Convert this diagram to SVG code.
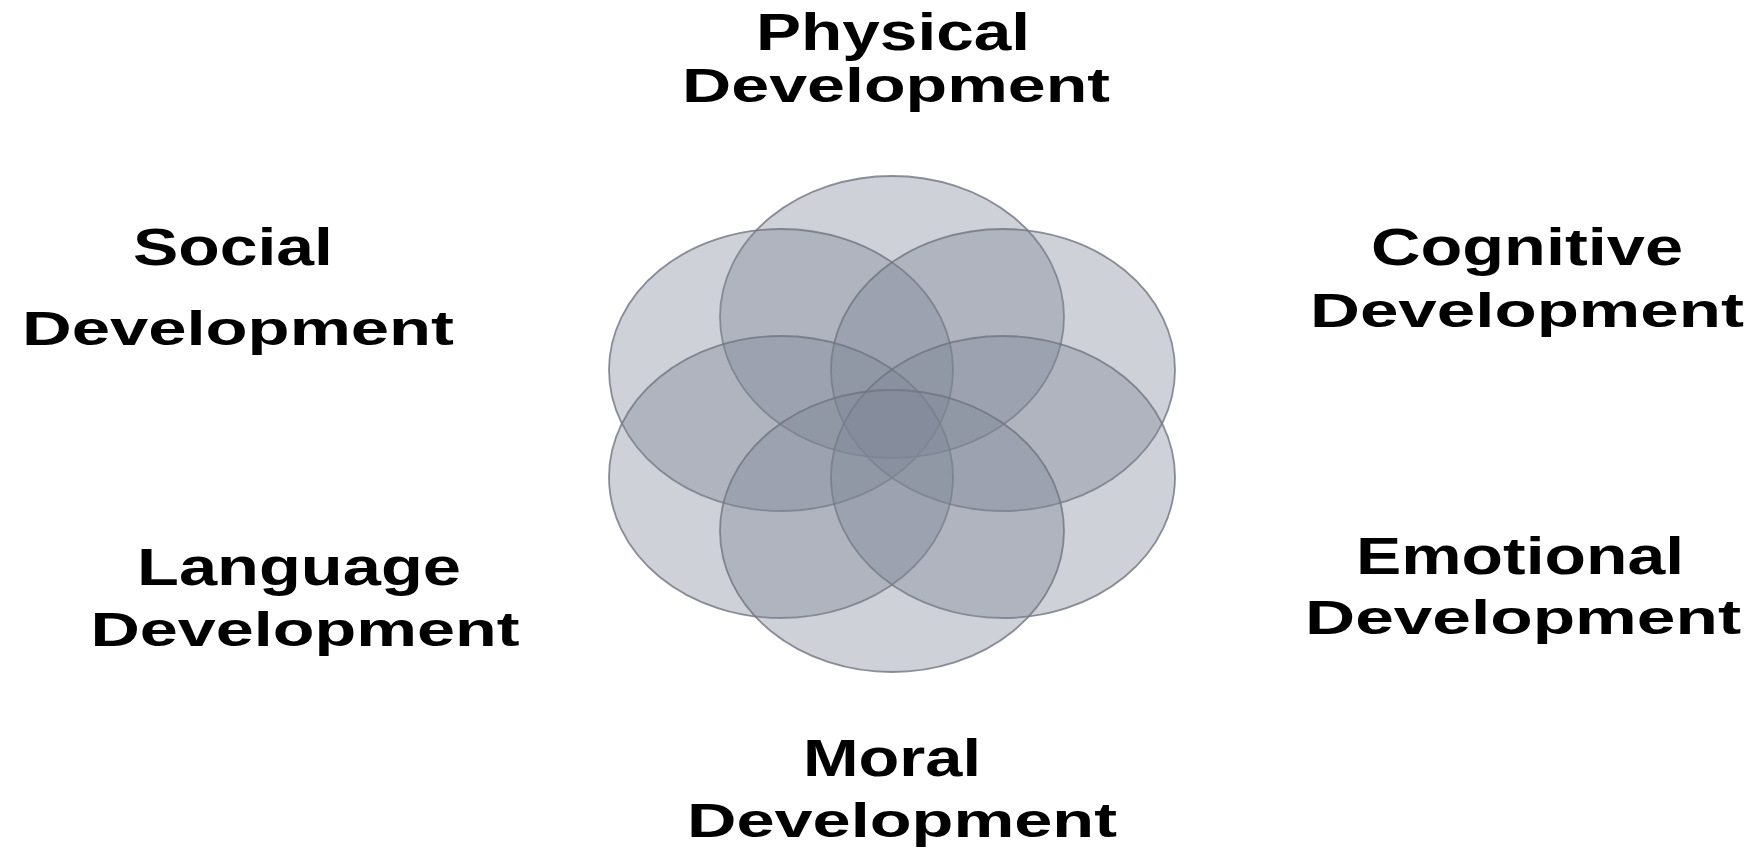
<svg xmlns="http://www.w3.org/2000/svg" width="1760" height="848" viewBox="0 0 1760 848">
<style>
.c{fill:#7d8595;fill-opacity:0.38;stroke:#6f7480;stroke-opacity:0.8;stroke-width:1.8}
.t{font-family:"Liberation Sans",Arial,sans-serif;font-weight:bold;font-size:51px;fill:#000;text-anchor:middle}
.d{font-size:49px}
</style>
<rect width="1760" height="848" fill="#fff"/>
<g id="circles">
<ellipse id="c-top" class="c" cx="892" cy="317" rx="172" ry="141"/>
<ellipse id="c-ul" class="c" cx="781" cy="370" rx="172" ry="141"/>
<ellipse id="c-ur" class="c" cx="1003" cy="370" rx="172" ry="141"/>
<ellipse id="c-ll" class="c" cx="781" cy="477" rx="172" ry="141"/>
<ellipse id="c-lr" class="c" cx="1003" cy="477" rx="172" ry="141"/>
<ellipse id="c-bot" class="c" cx="892" cy="531" rx="172" ry="141"/>
</g>
<g id="physical"><text class="t" x="893" y="50" textLength="274" lengthAdjust="spacingAndGlyphs">Physical</text><text class="t d" x="896" y="102" textLength="428" lengthAdjust="spacingAndGlyphs">Development</text></g>
<g id="social"><text class="t" x="233" y="265" textLength="200" lengthAdjust="spacingAndGlyphs">Social</text><text class="t d" x="238" y="345" textLength="432" lengthAdjust="spacingAndGlyphs">Development</text></g>
<g id="cognitive"><text class="t" x="1527" y="265" textLength="312" lengthAdjust="spacingAndGlyphs">Cognitive</text><text class="t d" x="1527" y="327" textLength="434" lengthAdjust="spacingAndGlyphs">Development</text></g>
<g id="language"><text class="t" x="299" y="585" textLength="324" lengthAdjust="spacingAndGlyphs">Language</text><text class="t d" x="305" y="646" textLength="429" lengthAdjust="spacingAndGlyphs">Development</text></g>
<g id="emotional"><text class="t" x="1520" y="574" textLength="328" lengthAdjust="spacingAndGlyphs">Emotional</text><text class="t d" x="1523" y="634" textLength="436" lengthAdjust="spacingAndGlyphs">Development</text></g>
<g id="moral"><text class="t" x="892" y="776" textLength="178" lengthAdjust="spacingAndGlyphs">Moral</text><text class="t d" x="902" y="837" textLength="430" lengthAdjust="spacingAndGlyphs">Development</text></g>
</svg>
